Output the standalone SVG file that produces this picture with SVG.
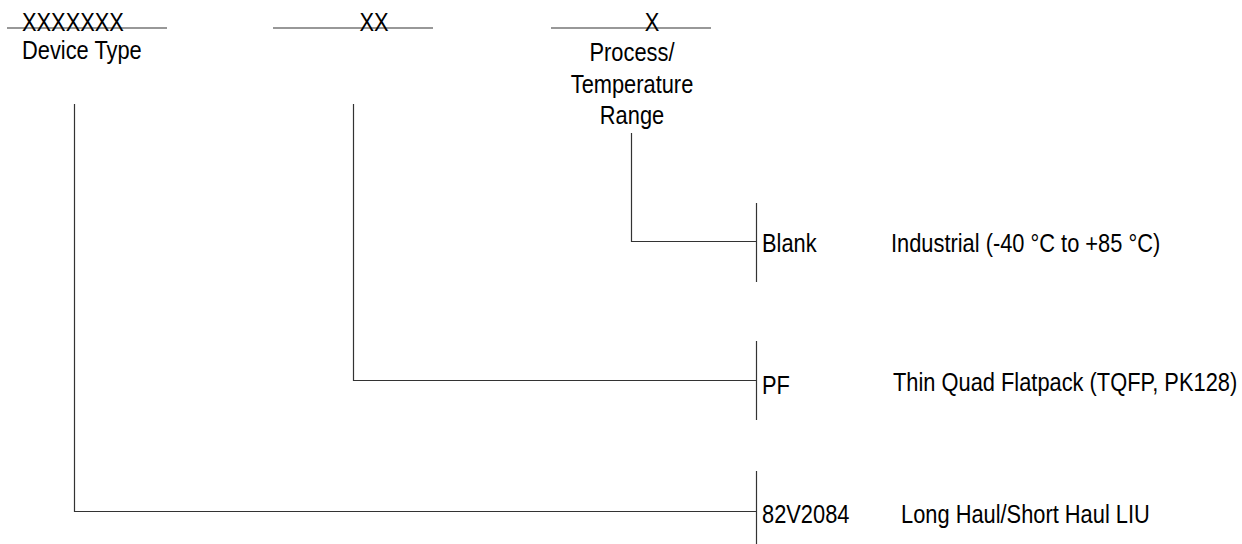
<svg xmlns="http://www.w3.org/2000/svg" width="1242" height="544" viewBox="0 0 1242 544">
<style>
text{font-family:"Liberation Sans",Arial,sans-serif;font-size:26px;fill:#000}
.c{text-anchor:middle}
line,polyline{stroke:#333;stroke-width:1.2;fill:none}
</style>
<rect width="1242" height="544" fill="#fff"/>
<g id="field-device">
<line x1="7" y1="28" x2="167" y2="28"/>
<text transform="translate(22,30.5) scale(0.84,1)">XXXXXXX</text>
<text transform="translate(22,58.5) scale(0.84,1)">Device Type</text>
</g>
<g id="field-package">
<line x1="273" y1="28" x2="433" y2="28"/>
<text class="c" transform="translate(374,30.5) scale(0.84,1)">XX</text>
</g>
<g id="field-process">
<line x1="551" y1="28" x2="711" y2="28"/>
<text class="c" transform="translate(652,30.5) scale(0.84,1)">X</text>
<text class="c" transform="translate(632,61) scale(0.84,1)">Process/</text>
<text class="c" transform="translate(632,93) scale(0.84,1)">Temperature</text>
<text class="c" transform="translate(632,124) scale(0.84,1)">Range</text>
</g>
<g id="opt-blank">
<line x1="756.5" y1="203" x2="756.5" y2="282"/>
<text transform="translate(762,252) scale(0.84,1)">Blank</text>
<text transform="translate(891,252) scale(0.84,1)">Industrial (-40 °C to +85 °C)</text>
</g>
<g id="opt-pf">
<line x1="756.5" y1="341" x2="756.5" y2="420"/>
<text transform="translate(762,393.5) scale(0.84,1)">PF</text>
<text transform="translate(893,390.5) scale(0.84,1)">Thin Quad Flatpack (TQFP, PK128)</text>
</g>
<g id="opt-82v2084">
<line x1="756.5" y1="471" x2="756.5" y2="544"/>
<text transform="translate(762,522.5) scale(0.84,1)">82V2084</text>
<text transform="translate(901,522.5) scale(0.84,1)">Long Haul/Short Haul LIU</text>
</g>
<g id="connectors">
<polyline points="631.5,133 631.5,241.5 756.5,241.5"/>
<polyline points="353.5,104 353.5,380.5 756.5,380.5"/>
<polyline points="74.5,104 74.5,511.5 756.5,511.5"/>
</g>
</svg>
